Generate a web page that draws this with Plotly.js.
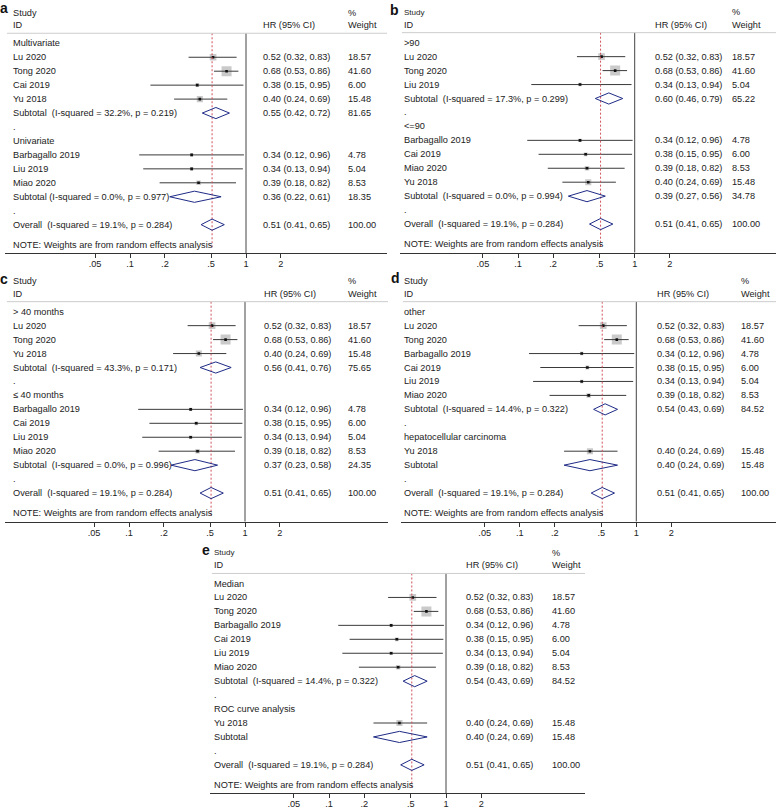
<!DOCTYPE html>
<html>
<head>
<meta charset="utf-8">
<script src="https://cdn.plot.ly/plotly-3.0.1.min.js"></script>
<style>html,body{margin:0;padding:0;background:#fff}</style>
</head>
<body>
<div id="chart" style="width:778px;height:810px"></div>
<script>
// ---------- data ----------
const studyNames  = ["Lu 2020", "Tong 2020", "Cai 2019", "Yu 2018", "Barbagallo 2019", "Liu 2019", "Miao 2020"];
const studyHR     = [0.52, 0.68, 0.38, 0.40, 0.34, 0.34, 0.39];
const studyLow    = [0.32, 0.53, 0.15, 0.24, 0.12, 0.13, 0.18];
const studyHigh   = [0.83, 0.86, 0.95, 0.69, 0.96, 0.94, 0.82];
const studyWeight = [18.57, 41.60, 6.00, 15.48, 4.78, 5.04, 8.53];

const overallLabel  = "Overall  (I-squared = 19.1%, p = 0.284)";
const overallHR     = 0.51;
const overallLow    = 0.41;
const overallHigh   = 0.65;
const overallWeight = 100.00;

const noteText = "NOTE: Weights are from random effects analysis";
const tickValues = [0.05, 0.1, 0.2, 0.5, 1, 2];
const tickLabels = [".05", ".1", ".2", ".5", "1", "2"];

// panel a
const groupsA     = ["Multivariate", "Univariate"];
const membersA    = [["Lu 2020", "Tong 2020", "Cai 2019", "Yu 2018"], ["Barbagallo 2019", "Liu 2019", "Miao 2020"]];
const subLabelsA  = ["Subtotal  (I-squared = 32.2%, p = 0.219)", "Subtotal (I-squared = 0.0%, p = 0.977)"];
const subHRA      = [0.55, 0.36];
const subLowA     = [0.42, 0.22];
const subHighA    = [0.72, 0.61];
const subWeightA  = [81.65, 18.35];

// panel b
const groupsB     = [">90", "<=90"];
const membersB    = [["Lu 2020", "Tong 2020", "Liu 2019"], ["Barbagallo 2019", "Cai 2019", "Miao 2020", "Yu 2018"]];
const subLabelsB  = ["Subtotal  (I-squared = 17.3%, p = 0.299)", "Subtotal  (I-squared = 0.0%, p = 0.994)"];
const subHRB      = [0.60, 0.39];
const subLowB     = [0.46, 0.27];
const subHighB    = [0.79, 0.56];
const subWeightB  = [65.22, 34.78];

// panel c
const groupsC     = ["> 40 months", "≤ 40 months"];
const membersC    = [["Lu 2020", "Tong 2020", "Yu 2018"], ["Barbagallo 2019", "Cai 2019", "Liu 2019", "Miao 2020"]];
const subLabelsC  = ["Subtotal  (I-squared = 43.3%, p = 0.171)", "Subtotal  (I-squared = 0.0%, p = 0.996)"];
const subHRC      = [0.56, 0.37];
const subLowC     = [0.41, 0.23];
const subHighC    = [0.76, 0.58];
const subWeightC  = [75.65, 24.35];

// panel d
const groupsD     = ["other", "hepatocellular carcinoma"];
const membersD    = [["Lu 2020", "Tong 2020", "Barbagallo 2019", "Cai 2019", "Liu 2019", "Miao 2020"], ["Yu 2018"]];
const subLabelsD  = ["Subtotal  (I-squared = 14.4%, p = 0.322)", "Subtotal"];
const subHRD      = [0.54, 0.40];
const subLowD     = [0.43, 0.24];
const subHighD    = [0.69, 0.69];
const subWeightD  = [84.52, 15.48];

// panel e
const groupsE     = ["Median", "ROC curve analysis"];
const membersE    = [["Lu 2020", "Tong 2020", "Barbagallo 2019", "Cai 2019", "Liu 2019", "Miao 2020"], ["Yu 2018"]];
const subLabelsE  = ["Subtotal  (I-squared = 14.4%, p = 0.322)", "Subtotal"];
const subHRE      = [0.54, 0.40];
const subLowE     = [0.43, 0.24];
const subHighE    = [0.69, 0.69];
const subWeightE  = [84.52, 15.48];

// ---------- layout geometry (pixels) ----------
const W = 778, H = 810;
const ROWPX = 13.95, TOPROW = -3, BOTROW = 15.05, HEADROW = -0.72;
const panels = [
  {letter: "a", g: groupsA, m: membersA, sl: subLabelsA, sh: subHRA, slo: subLowA, shi: subHighA, sw: subWeightA,
   left: 5,   right: 387, one: 246,   dec: 116,   row0: 43.3,  lx: 12,  hx: 262,   wx: 347,   ltx: 4,   lty: 8,   sfs: 9.2},
  {letter: "b", g: groupsB, m: membersB, sl: subLabelsB, sh: subHRB, slo: subLowB, shi: subHighB, sw: subWeightB,
   left: 400, right: 776, one: 634.7, dec: 116.7, row0: 42.7,  lx: 403, hx: 654,   wx: 731,   ltx: 394, lty: 10,  sfs: 8},
  {letter: "c", g: groupsC, m: membersC, sl: subLabelsC, sh: subHRC, slo: subLowC, shi: subHighC, sw: subWeightC,
   left: 5,   right: 388, one: 245,   dec: 116,   row0: 311.7, lx: 12,  hx: 262.5, wx: 346.5, ltx: 4,   lty: 279, sfs: 9.2},
  {letter: "d", g: groupsD, m: membersD, sl: subLabelsD, sh: subHRD, slo: subLowD, shi: subHighD, sw: subWeightD,
   left: 401, right: 776, one: 636.3, dec: 116.5, row0: 311.7, lx: 403, hx: 655.5, wx: 739.5, ltx: 395, lty: 278, sfs: 9.2},
  {letter: "e", g: groupsE, m: membersE, sl: subLabelsE, sh: subHRE, slo: subLowE, shi: subHighE, sw: subWeightE,
   left: 210, right: 585, one: 446,   dec: 117,   row0: 583.5, lx: 213, hx: 465,   wx: 550.5, ltx: 206, lty: 550, sfs: 8}
];

const FONT = "Liberation Sans, Arial, Helvetica, sans-serif";
const TXT = "#222";
const FS = 9.2;
const esc = s => s.replace(/&/g, "&amp;").replace(/</g, "&lt;").replace(/>/g, "&gt;").replace(/  /g, " \u00a0");
const fmtCI = (h, l, u) => h.toFixed(2) + " (" + l.toFixed(2) + ", " + u.toFixed(2) + ")";

const traces = [];
const annotations = [];
const shapes = [];
const layout = {
  width: W, height: H,
  margin: {l: 0, r: 0, t: 0, b: 0, pad: 0},
  paper_bgcolor: "#fff", plot_bgcolor: "rgba(0,0,0,0)",
  showlegend: false,
  font: {family: FONT, size: FS, color: TXT}
};

panels.forEach((p, i) => {
  const n = i + 1;
  const xr = i === 0 ? "x" : "x" + n;
  const yr = i === 0 ? "y" : "y" + n;
  const xk = i === 0 ? "xaxis" : "xaxis" + n;
  const yk = i === 0 ? "yaxis" : "yaxis" + n;

  // build rows
  const rows = [];
  p.g.forEach((grp, gi) => {
    rows.push({kind: "group", label: grp});
    p.m[gi].forEach(name => {
      const k = studyNames.indexOf(name);
      rows.push({kind: "study", label: name, hr: studyHR[k], lo: studyLow[k], hi: studyHigh[k], wt: studyWeight[k]});
    });
    rows.push({kind: "sub", label: p.sl[gi], hr: p.sh[gi], lo: p.slo[gi], hi: p.shi[gi], wt: p.sw[gi]});
    rows.push({kind: "dot", label: "."});
  });
  rows.push({kind: "sub", label: overallLabel, hr: overallHR, lo: overallLow, hi: overallHigh, wt: overallWeight});

  // axes
  const topPx = p.row0 + TOPROW * ROWPX;
  const botPx = p.row0 + BOTROW * ROWPX;
  layout[xk] = {
    domain: [p.left / W, p.right / W],
    type: "log",
    range: [-(p.one - p.left) / p.dec, (p.right - p.one) / p.dec],
    anchor: yr,
    tickvals: tickValues, ticktext: tickLabels,
    ticks: "outside", ticklen: 4, tickwidth: 1, tickcolor: "#333",
    ticklabelstandoff: -2,
    showline: true, linecolor: "#333", linewidth: 1,
    showgrid: false, zeroline: false,
    tickfont: {family: FONT, size: FS, color: TXT},
    fixedrange: true
  };
  layout[yk] = {
    domain: [1 - botPx / H, 1 - topPx / H],
    range: [BOTROW, TOPROW],
    anchor: xr,
    visible: false, showgrid: false, zeroline: false,
    fixedrange: true
  };

  // reference line at 1
  traces.push({type: "scatter", mode: "lines", xaxis: xr, yaxis: yr,
    x: [1, 1], y: [HEADROW, BOTROW], line: {color: "#444", width: 1}, hoverinfo: "skip"});

  // study boxes, CIs, points
  const st = rows.map((r, ri) => ({r, ri})).filter(o => o.r.kind === "study");
  traces.push({type: "scatter", mode: "markers", xaxis: xr, yaxis: yr,
    x: st.map(o => o.r.hr), y: st.map(o => o.ri),
    marker: {symbol: "square", color: "#b4b4b4", size: st.map(o => 1.55 * Math.sqrt(o.r.wt)), line: {width: 0}},
    hoverinfo: "skip"});
  const cx = [], cy = [];
  st.forEach(o => { cx.push(o.r.lo, o.r.hi, null); cy.push(o.ri, o.ri, null); });
  traces.push({type: "scatter", mode: "lines", xaxis: xr, yaxis: yr, x: cx, y: cy,
    line: {color: "#3a3a3a", width: 1}, hoverinfo: "skip"});
  traces.push({type: "scatter", mode: "markers", xaxis: xr, yaxis: yr,
    x: st.map(o => o.r.hr), y: st.map(o => o.ri),
    marker: {symbol: "square", color: "#111", size: 2.6, line: {width: 0}}, hoverinfo: "skip"});

  // overall dashed line
  traces.push({type: "scatter", mode: "lines", xaxis: xr, yaxis: yr,
    x: [overallHR, overallHR], y: [HEADROW, 14.75],
    line: {color: "#d0505a", width: 1, dash: "2px,2px"}, hoverinfo: "skip"});

  // diamonds
  const dx = [], dy = [], hh = 0.4;
  rows.forEach((r, ri) => {
    if (r.kind === "sub") {
      dx.push(r.lo, r.hr, r.hi, r.hr, r.lo, null);
      dy.push(ri, ri - hh, ri, ri + hh, ri, null);
    }
  });
  traces.push({type: "scatter", mode: "lines", xaxis: xr, yaxis: yr, x: dx, y: dy,
    line: {color: "#1f2b86", width: 1}, hoverinfo: "skip"});

  // header rule
  shapes.push({type: "line", xref: xr + " domain", yref: yr, x0: 0.005, x1: 1, y0: HEADROW, y1: HEADROW,
    line: {color: "#cdcdcd", width: 1}});

  // text
  const ann = (x, y, text, extra) => annotations.push(Object.assign({
    xref: "paper", yref: yr, x: x / W, y: y, text: text, showarrow: false,
    xanchor: "left", yanchor: "middle", borderpad: 0,
    font: {family: FONT, size: FS, color: TXT}
  }, extra || {}));

  ann(p.lx, -2.2, "Study", {font: {family: FONT, size: p.sfs, color: TXT}});
  ann(p.lx, -1.3, "ID");
  ann(p.hx, -1.3, "HR (95% CI)");
  ann(p.wx, -2.2, "%");
  ann(p.wx, -1.3, "Weight");
  rows.forEach((r, ri) => {
    ann(p.lx, ri, esc(r.label));
    if (r.kind === "study" || r.kind === "sub") {
      ann(p.hx, ri, fmtCI(r.hr, r.lo, r.hi));
      ann(p.wx, ri, r.wt.toFixed(2));
    }
  });
  ann(p.lx, 14.46, noteText);

  // panel letter
  annotations.push({xref: "paper", yref: "paper", x: p.ltx / W, y: 1 - p.lty / H, text: "<b>" + p.letter + "</b>",
    showarrow: false, xanchor: "center", yanchor: "middle", borderpad: 0,
    font: {family: FONT, size: 14, color: "#111"}});
});

layout.annotations = annotations;
layout.shapes = shapes;

Plotly.newPlot("chart", traces, layout, {displayModeBar: false, staticPlot: true});
</script>
</body>
</html>
